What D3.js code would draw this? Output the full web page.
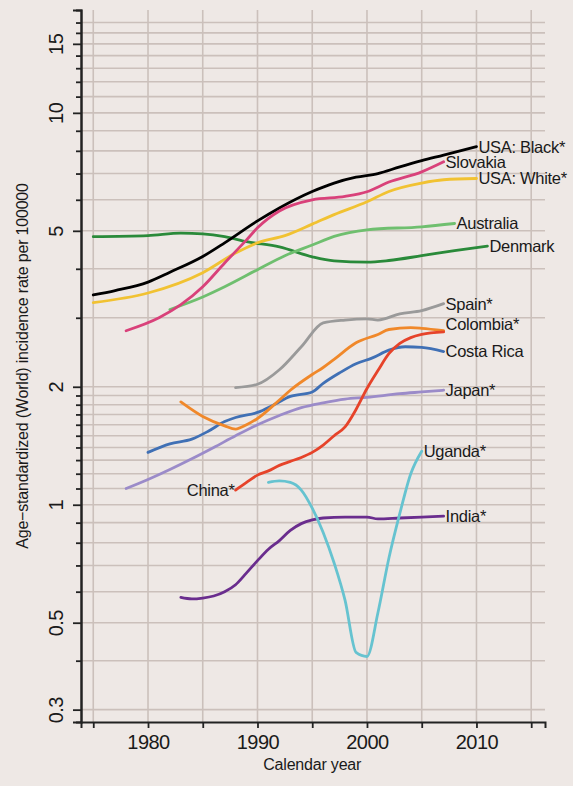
<!DOCTYPE html>
<html>
<head>
<meta charset="utf-8">
<script src="https://cdn.jsdelivr.net/npm/d3@7"></script>
<style>
  html, body { margin: 0; padding: 0; background: #eee8e5; }
  svg { display: block; }
  text { font-family: "Liberation Sans", Arial, Helvetica, sans-serif; fill: #1a1a1a; }
</style>
</head>
<body>
<svg id="chart" width="573" height="786"></svg>
<script>
// Age-standardized incidence rates (per 100000), [calendar year, rate]
const usaBlack   = [[1975,3.43],[1977,3.52],[1980,3.70],[1982,3.92],[1985,4.30],[1987,4.66],[1990,5.30],[1992,5.72],[1995,6.30],[1997,6.62],[1999,6.85],[2001,7.00],[2003,7.28],[2005,7.55],[2007,7.80],[2010,8.20]];
const slovakia   = [[1978,2.78],[1981,3.00],[1983,3.24],[1985,3.60],[1987,4.14],[1989,4.74],[1990,5.09],[1992,5.62],[1995,6.00],[1998,6.12],[2000,6.29],[2002,6.66],[2005,7.07],[2007,7.50]];
const usaWhite   = [[1975,3.28],[1980,3.47],[1985,3.91],[1988,4.39],[1990,4.66],[1992.5,4.86],[1995,5.20],[1997,5.50],[2000,5.93],[2002,6.30],[2005,6.62],[2007,6.75],[2010,6.80]];
const australia  = [[1982,3.15],[1985,3.39],[1987,3.60],[1990,3.98],[1992.5,4.32],[1995,4.60],[1997,4.84],[2000,5.03],[2005,5.12],[2008,5.22]];
const denmark    = [[1975,4.83],[1980,4.86],[1983,4.93],[1985,4.91],[1987,4.83],[1989,4.69],[1992,4.55],[1995,4.29],[1997,4.19],[2000,4.16],[2002,4.20],[2005,4.32],[2008,4.45],[2011,4.57]];
const spain      = [[1988,1.99],[1990,2.03],[1992,2.21],[1994,2.53],[1996,2.91],[1998,2.96],[2000,2.98],[2001,2.96],[2003,3.07],[2005,3.13],[2007,3.26]];
const colombia   = [[1983,1.83],[1985,1.68],[1987,1.59],[1988,1.56],[1989,1.60],[1990,1.66],[1992,1.85],[1993,1.96],[1995,2.15],[1996,2.24],[1997,2.35],[1999,2.59],[2001,2.72],[2002,2.80],[2004,2.83],[2005,2.82],[2007,2.78]];
const china      = [[1988,1.09],[1989,1.14],[1990,1.19],[1991,1.22],[1992,1.26],[1993,1.29],[1994,1.32],[1995,1.36],[1996,1.42],[1997,1.50],[1998,1.58],[1999,1.75],[2000,1.98],[2001,2.20],[2002,2.43],[2003,2.58],[2004,2.67],[2005,2.72],[2007,2.76]];
const costaRica  = [[1980,1.36],[1982,1.43],[1984,1.47],[1985.5,1.54],[1987,1.63],[1988,1.67],[1990,1.72],[1991.5,1.80],[1993,1.89],[1995,1.94],[1996,2.04],[1997.5,2.17],[1999,2.29],[2000.5,2.37],[2002,2.48],[2003.5,2.53],[2005,2.52],[2007,2.46]];
const japan      = [[1978,1.10],[1980,1.16],[1982,1.23],[1984,1.31],[1986,1.40],[1988,1.50],[1990,1.60],[1992,1.69],[1994,1.77],[1996,1.82],[1998,1.86],[2000,1.88],[2003,1.92],[2005,1.94],[2007,1.96]];
const uganda     = [[1991,1.14],[1992,1.15],[1993,1.14],[1994,1.09],[1995,0.98],[1996,0.85],[1997,0.71],[1998,0.57],[1999,0.42],[2000,0.41],[2001,0.53],[2002,0.73],[2003,0.95],[2004,1.20],[2005,1.37]];
const india      = [[1983,0.58],[1984,0.575],[1985,0.578],[1986,0.585],[1987,0.60],[1988,0.625],[1989,0.67],[1990,0.72],[1991,0.77],[1992,0.81],[1993,0.86],[1994,0.895],[1995,0.915],[1996,0.925],[1998,0.93],[2000,0.93],[2001,0.92],[2003,0.925],[2005,0.93],[2007,0.935]];

const seriesNames = ["Denmark","Australia","USA: White*","USA: Black*","Slovakia","Spain*","Japan*","Costa Rica","Colombia*","China*","India*","Uganda*"];
const seriesData  = [denmark, australia, usaWhite, usaBlack, slovakia, spain, japan, costaRica, colombia, china, india, uganda];

// Axis ticks
const yMajorTicks = [0.3, 0.5, 1, 2, 5, 10, 15];
const yMinorTicks = [0.4, 0.6, 0.7, 0.8, 0.9, 1.1, 1.2, 1.3, 1.4, 1.5, 1.6, 1.7, 1.8, 1.9, 3, 4, 6, 7, 8, 9, 11, 12, 13, 14, 16, 17];
const xTicks = [1975, 1980, 1985, 1990, 1995, 2000, 2005, 2010, 2015];
const xTickLabels = [1980, 1990, 2000, 2010];

// Styling
const colors = {
  "USA: Black*": "#000000",
  "Slovakia": "#d9417a",
  "USA: White*": "#f1c232",
  "Australia": "#6fbf6f",
  "Denmark": "#2a8a3a",
  "Spain*": "#9a9a9a",
  "Colombia*": "#f0882a",
  "China*": "#e6432a",
  "Costa Rica": "#4070b5",
  "Japan*": "#9b8bc9",
  "Uganda*": "#66c3d0",
  "India*": "#6a2d8e"
};
const labelNudge = { "Colombia*": -7 };

const svg = d3.select("#chart");
const plotLeft = 81, plotRight = 545, plotTop = 10, plotBottom = 722;

const x = d3.scaleLinear().domain([1973.88, 2016.26]).range([plotLeft, plotRight]);
const y = d3.scaleLog().domain([0.279, 18.3]).range([plotBottom, plotTop]);

// Grid
const grid = svg.append("g").attr("stroke", "#cbc0bb").attr("stroke-width", 1.6);
grid.selectAll("line.h").data(yMajorTicks.concat(yMinorTicks)).join("line")
  .attr("class", "h")
  .attr("x1", plotLeft).attr("x2", plotRight)
  .attr("y1", d => y(d)).attr("y2", d => y(d));
grid.selectAll("line.v").data(xTicks).join("line")
  .attr("class", "v")
  .attr("x1", d => x(d)).attr("x2", d => x(d))
  .attr("y1", plotTop).attr("y2", plotBottom);

// Y axis: minor ticks, then major ticks with labels
const yMinor = svg.append("g").attr("transform", `translate(${plotLeft},0)`)
  .call(d3.axisLeft(y).tickValues(yMinorTicks).tickSize(5).tickFormat(""));
const yMajor = svg.append("g").attr("transform", `translate(${plotLeft},0)`)
  .call(d3.axisLeft(y).tickValues(yMajorTicks).tickSize(8).tickPadding(10).tickFormat(d3.format("")));
[yMinor, yMajor].forEach(g => {
  g.select(".domain").attr("stroke", "#222").attr("stroke-width", 2);
  g.selectAll(".tick line").attr("stroke", "#222").attr("stroke-width", 1.8);
});
yMajor.selectAll(".tick text")
  .attr("transform", "rotate(-90)")
  .attr("x", 0).attr("y", -18)
  .attr("dy", 0)
  .attr("text-anchor", "middle")
  .style("font-size", "20px").style("letter-spacing", "-0.5px").style("fill", "#1a1a1a");

// X axis
const xAxis = svg.append("g").attr("transform", `translate(0,${plotBottom})`)
  .call(d3.axisBottom(x).tickValues(xTicks).tickSize(6).tickPadding(7)
    .tickFormat(d => xTickLabels.includes(d) ? d : ""));
xAxis.select(".domain").attr("stroke", "#222").attr("stroke-width", 2);
xAxis.selectAll(".tick line").attr("stroke", "#222").attr("stroke-width", 1.8);
xAxis.selectAll(".tick text").style("font-size", "20px").style("letter-spacing", "-0.5px").style("fill", "#1a1a1a");

// Axis titles
svg.append("text")
  .attr("x", x(1995)).attr("y", 770)
  .attr("text-anchor", "middle")
  .style("font-size", "16px").style("letter-spacing", "-0.2px")
  .text("Calendar year");
svg.append("text")
  .attr("transform", `translate(28,366) rotate(-90)`)
  .attr("text-anchor", "middle")
  .style("font-size", "16px").style("letter-spacing", "-0.2px")
  .text("Age\u2212standardized (World) incidence rate per 100000");

// Series lines
const line = d3.line().x(d => x(d[0])).y(d => y(d[1])).curve(d3.curveMonotoneX);
svg.append("g").selectAll("path").data(seriesNames).join("path")
  .attr("d", (n, i) => line(seriesData[i]))
  .attr("fill", "none")
  .attr("stroke", n => colors[n])
  .attr("stroke-width", 2.8)
  .attr("stroke-linejoin", "round")
  .attr("stroke-linecap", "round");

// Series labels at the line ends (China at its start)
svg.append("g").selectAll("text").data(seriesNames).join("text")
  .each(function (n, i) {
    const pts = seriesData[i];
    const atStart = n === "China*";
    const p = atStart ? pts[0] : pts[pts.length - 1];
    d3.select(this)
      .attr("x", x(p[0]) + (atStart ? -1 : 2))
      .attr("y", y(p[1]) + (labelNudge[n] || 0))
      .attr("dy", "0.36em")
      .attr("text-anchor", atStart ? "end" : "start")
      .style("font-size", "16.5px").style("letter-spacing", "-0.3px")
      .text(n);
  });
</script>
</body>
</html>
